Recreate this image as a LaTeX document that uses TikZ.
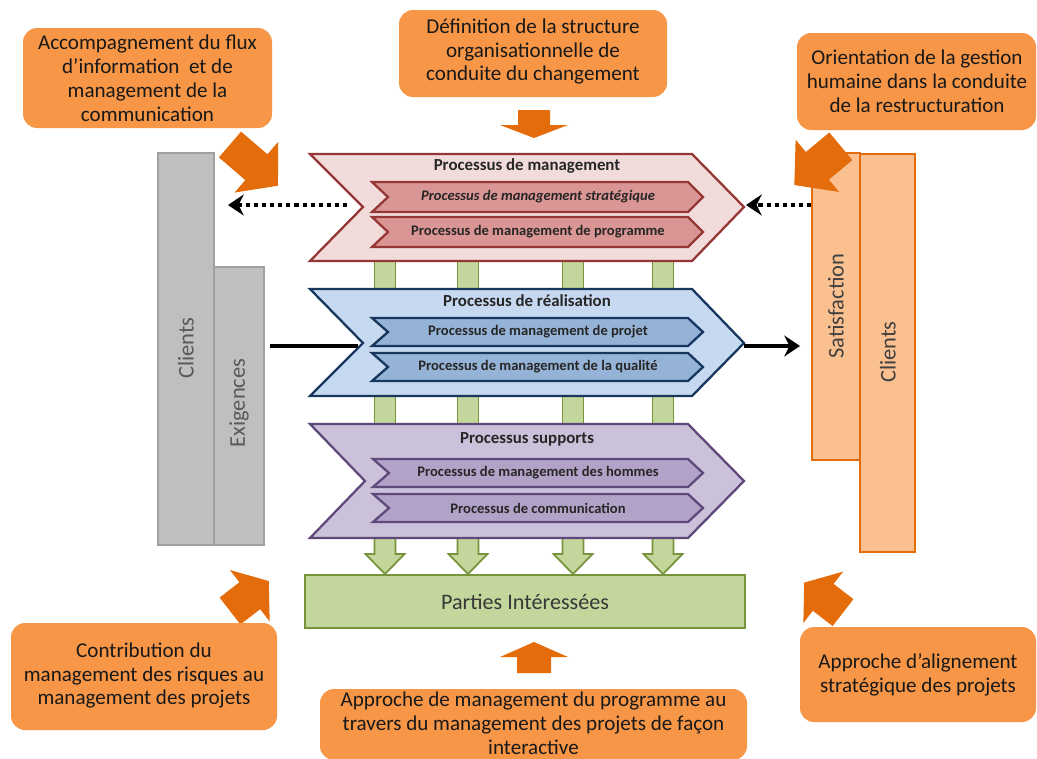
\documentclass[tikz,border=0pt]{standalone}
\usepackage{fontspec}
\setmainfont{Carlito}
\usetikzlibrary{arrows.meta}
\definecolor{oboxc}{HTML}{F79646}
\definecolor{oarrc}{HTML}{E46C0A}
\definecolor{peach}{HTML}{FAC090}
\definecolor{grayf}{HTML}{BFBFBF}
\definecolor{grayd}{HTML}{A0A0A0}
\definecolor{redf}{HTML}{F2DCDB}
\definecolor{redd}{HTML}{953735}
\definecolor{redi}{HTML}{DA9694}
\definecolor{bluef}{HTML}{C6D9F1}
\definecolor{blued}{HTML}{17375E}
\definecolor{bluei}{HTML}{95B3D7}
\definecolor{purf}{HTML}{CCC1DA}
\definecolor{purd}{HTML}{5F497A}
\definecolor{puri}{HTML}{B3A2C7}
\definecolor{grnf}{HTML}{C3D69B}
\definecolor{grnd}{HTML}{77933C}
\newcommand\blockarr[7]{%
  \fill[oarrc, shift={(#1,#2)}, rotate=#3] (0,-#6/2) -- (#4,-#6/2) -- (#4,-#7/2) -- (#4+#5,0) -- (#4,#7/2) -- (#4,#6/2) -- (0,#6/2) -- cycle;}
\tikzset{
  obox/.style={fill=oboxc, rounded corners=8pt},
  otext/.style={align=center, font=\fontsize{12}{13.6}\selectfont, text=black!90, inner sep=0pt},
  graybox/.style={fill=grayf, draw=grayd, line width=0.8pt},
  peachbox/.style={fill=peach, draw=oarrc, line width=1.2pt},
  vtext/.style={rotate=90, font=\fontsize{12.8}{14}\selectfont, inner sep=0pt},
  ctitle/.style={font=\bfseries\fontsize{9.6}{11}\selectfont, text=black!85, inner sep=0pt},
  cinner/.style={font=\bfseries\fontsize{8.3}{10}\selectfont, text=black!85, inner sep=0pt},
  grnbar/.style={fill=grnf, draw=grnd, line width=1pt},
  dotarr/.style={line width=2.3pt, dash pattern=on 2.3pt off 2.3pt, -{Stealth[length=9pt,width=12pt,inset=3pt]}},
  solarr/.style={line width=2.3pt, -{Stealth[length=9pt,width=12pt,inset=3pt]}},
  solline/.style={line width=2.3pt}
}
\begin{document}
\begin{tikzpicture}[x=0.02cm,y=-0.02cm]
\useasboundingbox (0,0) rectangle (1037,758);
\clip (0,0) rectangle (1037,758);
\fill[white] (0,0) rectangle (1037,758);

% side columns
\draw[graybox] (158,153) rectangle (214,545);
\draw[graybox] (214,267) rectangle (264,545);
\node[vtext, text=black!65] (clientsL) at (186,348) {Clients};
\node[vtext, text=black!65] (exig) at (239,403) {Exigences};
\draw[peachbox] (860,154) rectangle (915,552);
\draw[peachbox] (812,153) rectangle (860,460);
\node[vtext, text=black!75] (satis) at (836,306) {Satisfaction};
\node[vtext, text=black!75] (clientsR) at (888,352) {Clients};

% green connectors
\foreach \c in {385,468,573,663}{
  \draw[grnbar] (\c-10.5,258) rectangle (\c+10.5,292);
  \draw[grnbar] (\c-10.5,393) rectangle (\c+10.5,427);
  \draw[grnbar] (\c-10.5,535) -- (\c+10.5,535) -- (\c+10.5,554) -- (\c+19.5,554) -- (\c,574) -- (\c-19.5,554) -- (\c-10.5,554) -- cycle;
}

% chevron 1
\draw[fill=redf, draw=redd, line width=1.3pt] (310,154) -- (692,154) -- (744,207) -- (692,261) -- (310,261) -- (363,207) -- cycle;
\draw[fill=redi, draw=redd, line width=1.3pt] (372,182) -- (688,182) -- (703,197) -- (688,212) -- (372,212) -- (388,197) -- cycle;
\draw[fill=redi, draw=redd, line width=1.3pt] (372,217) -- (688,217) -- (703,232) -- (688,247) -- (372,247) -- (388,232) -- cycle;
\node[ctitle] (t1) at (527,166) {Processus de management};
\node[cinner] (t1a) at (538,197) {\itshape Processus de management stratégique};
\node[cinner] (t1b) at (538,232) {Processus de management de programme};

% chevron 2
\draw[fill=bluef, draw=blued, line width=1.3pt] (310,289) -- (692,289) -- (744,343) -- (692,396) -- (310,396) -- (363,343) -- cycle;
\draw[fill=bluei, draw=blued, line width=1.3pt] (372,318) -- (688,318) -- (703,332) -- (688,346) -- (372,346) -- (388,332) -- cycle;
\draw[fill=bluei, draw=blued, line width=1.3pt] (372,353) -- (688,353) -- (703,367) -- (688,381) -- (372,381) -- (388,367) -- cycle;
\node[ctitle] (t2) at (527,301) {Processus de réalisation};
\node[cinner] (t2a) at (538,332) {Processus de management de projet};
\node[cinner] (t2b) at (538,367) {Processus de management de la qualité};

% chevron 3
\draw[fill=purf, draw=purd, line width=1.3pt] (310,424) -- (688,424) -- (744,481) -- (688,538) -- (310,538) -- (365,481) -- cycle;
\draw[fill=puri, draw=purd, line width=1.3pt] (373,459) -- (688,459) -- (703,473) -- (688,487) -- (373,487) -- (389,473) -- cycle;
\draw[fill=puri, draw=purd, line width=1.3pt] (373,494) -- (688,494) -- (703,508) -- (688,522) -- (373,522) -- (389,508) -- cycle;
\node[ctitle] (t3) at (527,439) {Processus supports};
\node[cinner] (t3a) at (538,473) {Processus de management des hommes};
\node[cinner] (t3b) at (538,508) {Processus de communication};

% parties
\draw[fill=grnf, draw=grnd, line width=1pt] (305,575) rectangle (745,628);
\node[font=\fontsize{12.6}{14}\selectfont, text=black!78, inner sep=0pt] (parties) at (525,602) {Parties Intéressées};

% black connectors
\coordinate (dlS) at (347,205);
\coordinate (dlE) at (228,205);
\coordinate (drS) at (811,205);
\coordinate (drE) at (746,205);
\coordinate (slS) at (270,346);
\coordinate (slE) at (358,346);
\coordinate (srS) at (744,346);
\coordinate (srE) at (800,346);
\draw[dotarr] (dlS) -- (dlE);
\draw[dotarr] (drS) -- (drE);
\draw[solline] (slS) -- (slE);
\draw[solarr] (srS) -- (srE);

% orange block arrows
\blockarr{230}{144.5}{-40.7}{34.8}{28.4}{34}{67}
\blockarr{840.8}{146.3}{219.8}{30.5}{30}{36}{68}
\blockarr{230}{611}{37.7}{25}{24}{34}{65}
\blockarr{843}{612.6}{142.3}{25}{24}{34}{65}
\fill[oarrc] (518,110) -- (550,110) -- (550,125) -- (568,125) -- (534,138) -- (500,125) -- (518,125) -- cycle;
\fill[oarrc] (517,673) -- (551,673) -- (551,657) -- (568,657) -- (534,642) -- (500,657) -- (517,657) -- cycle;

% orange boxes
\fill[obox] (23,28) rectangle (272,128);
\node[otext] (bTL) at (147.5,78.5) {Accompagnement du flux\\d’information \ et de\\management de la\\communication};
\fill[obox] (399,10) rectangle (667,97);
\node[otext] (bTC) at (533,51.5) {Définition de la structure\\organisationnelle de\\conduite du changement};
\fill[obox] (797,33) rectangle (1036,130);
\node[otext] (bTR) at (917,81) {Orientation de la gestion\\humaine dans la conduite\\de la restructuration};
\fill[obox] (11,623) rectangle (277,730);
\node[otext] (bBL) at (144,675.5) {Contribution du\\management des risques au\\management des projets};
\fill[obox] (320,689) rectangle (747,760);
\node[otext] (bBC) at (533.5,723.5) {Approche de management du programme au\\travers du management des projets de façon\\interactive};
\fill[obox] (800,627) rectangle (1036,722);
\node[otext] (bBR) at (918,674.5) {Approche d’alignement\\stratégique des projets};
\end{tikzpicture}
\end{document}
